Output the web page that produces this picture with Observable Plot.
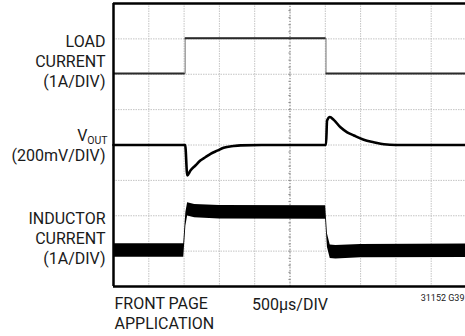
<!DOCTYPE html>
<html>
<head>
<meta charset="utf-8">
<script src="https://cdn.jsdelivr.net/npm/d3@7"></script>
<script src="https://cdn.jsdelivr.net/npm/@observablehq/plot@0.6"></script>
<style>
  html, body { margin: 0; padding: 0; background: #fff; }
  #chart svg { display: block; }
</style>
</head>
<body>
<div id="chart"></div>
<script>
// Time axis in divisions (500µs/DIV), vertical axis in screen divisions
const gridX = [1, 2, 3, 4, 5, 6, 7, 8, 9];
const gridY = [1, 2, 3, 4, 5, 6, 7];

// Load current (1A/DIV)
const loadT = [0, 2.03, 2.03, 6.02, 6.02, 10];
const loadV = [6.02, 6.02, 7.02, 7.02, 6.02, 6.02];

// Vout (200mV/DIV)
const voutT = [0, 2.03, 2.09, 2.18, 2.32, 2.46, 2.61, 2.75, 2.94, 3.12, 3.40, 3.60, 4.2, 6.02, 6.05, 6.13, 6.24, 6.43, 6.62, 6.81, 7.09, 7.37, 7.66, 8.0, 10];
const voutV = [4.0, 4.0, 3.14, 3.28, 3.42, 3.56, 3.66, 3.75, 3.84, 3.92, 3.97, 3.99, 4.0, 4.0, 4.69, 4.79, 4.71, 4.50, 4.36, 4.27, 4.15, 4.08, 4.02, 4.0, 4.0];

// Inductor current (1A/DIV), centre of ripple band
const indT = [0, 1.99, 2.05, 2.1, 2.3, 3.0, 6.01, 6.06, 6.14, 6.3, 7.0, 10];
const indV = [1.02, 1.02, 1.9, 2.18, 2.13, 2.1, 2.09, 1.3, 0.98, 0.97, 1.0, 1.01];
const ripple = 0.19; // half peak-to-peak ripple, divisions

const centerTicks = d3.range(0.2, 8, 0.2);

const lines = (T, V) => T.map((t, i) => ({t, v: V[i]}));
const load = lines(loadT, loadV);
// flat (settled) parts of the load step: consecutive points at the same level
const loadFlat = load.slice(1).map((d, i) => ({x1: load[i].t, x2: d.t, v: d.v, same: d.v === load[i].v})).filter(d => d.same);
const vout = lines(voutT, voutV);
const ind = lines(indT, indV);

const labels = [
  {t: 0, v: 5.63, text: "LOAD\nCURRENT\n(1A/DIV)"},
  {t: 0, v: 3.55, text: "(200mV/DIV)"},
  {t: 0, v: 0.64, text: "INDUCTOR\nCURRENT\n(1A/DIV)"}
];

const ink = "#1a1a1a";
const font = "Roboto, 'Liberation Sans', sans-serif";

const chart = Plot.plot({
  width: 465,
  height: 336,
  marginLeft: 113,
  marginRight: -1,
  marginTop: 3,
  marginBottom: 50,
  x: {domain: [0, 10], axis: null},
  y: {domain: [0, 8], axis: null},
  style: {fontFamily: font, fontSize: "16px", color: ink, background: "#fff"},
  marks: [
    Plot.ruleX(gridX, {stroke: "#c4c4c4", strokeWidth: 1, strokeDasharray: "1.5,1"}),
    Plot.ruleY(gridY, {stroke: "#c4c4c4", strokeWidth: 1, strokeDasharray: "1.5,1"}),
    Plot.ruleX([5], {stroke: "#8a8a8a", strokeWidth: 1, strokeDasharray: "1,2"}),
    Plot.ruleY(centerTicks, {y: d => d, x1: 4.97, x2: 5.03, stroke: "#8a8a8a", strokeWidth: 1}),
    // traces
    Plot.areaY(ind, {x: "t", y1: d => d.v - ripple, y2: d => d.v + ripple, fill: "#000", curve: "linear"}),
    Plot.line(load, {x: "t", y: "v", stroke: "#777", strokeWidth: 1}),
    Plot.ruleY(loadFlat, {x1: "x1", x2: "x2", y: "v", stroke: "#2a2a2a", strokeWidth: 2}),
    Plot.line(vout, {x: "t", y: "v", stroke: "#000", strokeWidth: 2.6, curve: "monotone-x"}),
    // frame
    Plot.ruleX([0], {stroke: "#000", strokeWidth: 2.5}),
    Plot.ruleY([0, 8], {stroke: "#000", strokeWidth: 2.5}),
    // labels
    Plot.text(labels, {x: "t", y: "v", text: "text", textAnchor: "end", dx: -8, lineAnchor: "bottom", lineHeight: 1.25, fill: ink, fontSize: 16}),
    Plot.text(["V"], {x: 0, y: 4.11, text: d => d, textAnchor: "end", dx: -26, lineAnchor: "bottom", fill: ink, fontSize: 16}),
    Plot.text(["OUT"], {x: 0, y: 4.03, text: d => d, textAnchor: "end", dx: -6, lineAnchor: "bottom", fill: ink, fontSize: 10.5}),
    Plot.text(["FRONT PAGE\nAPPLICATION"], {x: 0, y: -1.2, text: d => d, textAnchor: "start", dx: 1, lineAnchor: "bottom", lineHeight: 1.25, fill: ink, fontSize: 16}),
    Plot.text(["500µs/DIV"], {x: 5, y: -0.66, text: d => d, textAnchor: "middle", lineAnchor: "bottom", fill: ink, fontSize: 16}),
    Plot.text(["31152 G39"], {x: 10, y: -0.4, text: d => d, textAnchor: "end", dx: -2, lineAnchor: "bottom", fill: ink, fontSize: 9})
  ]
});
document.getElementById("chart").appendChild(chart);
</script>
</body>
</html>
